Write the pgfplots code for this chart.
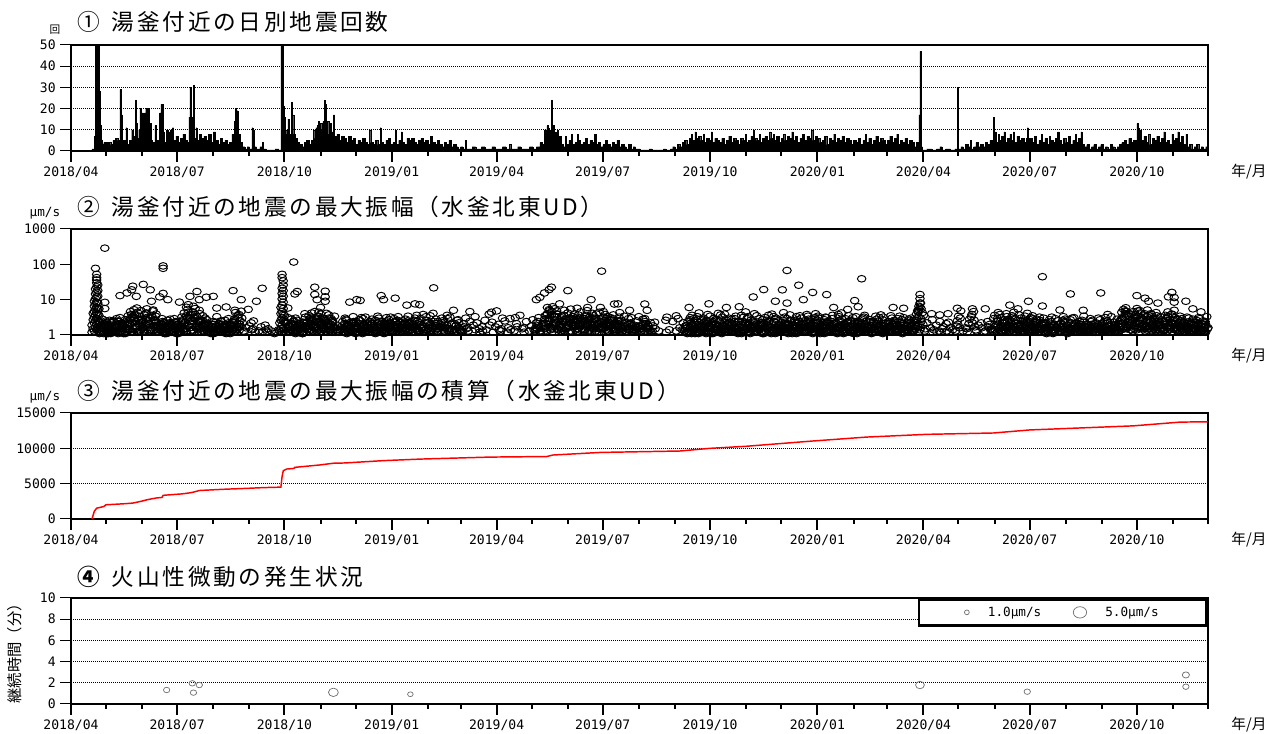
\documentclass[border=0pt]{standalone}
\usepackage{fontspec}
\setmainfont{DejaVu Sans Mono}
\newfontfamily\jp{Noto Sans CJK JP}
\usepackage{pgfplots}
\pgfplotsset{compat=1.18}
\usepackage{pgfplotstable}

\newcommand\ticfont{\fontsize{9.8pt}{11pt}\selectfont}
\newcommand\ttl[1]{{\jp\fontsize{17pt}{20pt}\selectfont\addfontfeature{LetterSpace=12}#1}}

% panel 2: 4-day blocks, a..e = day d..d+3, f = d+0.5, g = d+2.5
\pgfplotstableread{
d a b c e f g
24 1.3 2.2 1.6 2.8 1.1 1.9
28 1.8 1.2 2.5 1.5 2.1 1.3
32 1.1 2.6 1.4 1.9 1.7 2.3
36 2.4 1.5 1.2 2.9 1.3 1.8
40 1.6 2.0 3.1 1.3 2.5 1.2
44 1.2 1.7 2.3 1.5 1.9 2.7
48 2.2 3.5 1.4 4.6 1.8 2.9
52 3.8 1.5 5.2 2.4 1.2 3.1
56 1.7 4.4 2.8 1.3 5.8 2.1
60 4.9 2.3 1.6 3.7 2.6 1.4
64 1.9 5.5 3.2 2.0 4.1 1.3
68 3.0 1.4 4.8 2.7 1.6 5.1
72 2.5 3.9 1.3 2.2 3.4 1.8
76 1.4 2.1 2.9 1.2 1.7 2.4
80 2.3 1.3 1.8 2.6 1.1 1.5
84 1.6 2.8 1.2 1.9 2.2 1.4
88 1.2 1.5 2.4 1.7 2.9 1.1
92 2.0 1.3 1.6 3.2 1.4 2.3
96 2.7 4.2 1.5 6.1 2.0 3.4
100 5.3 1.8 3.6 2.4 7.2 1.3
104 2.1 6.5 2.9 1.6 4.5 3.8
108 3.3 1.4 5.0 2.6 1.9 4.0
112 1.5 2.6 1.2 3.0 1.8 nan
116 2.2 1.3 1.9 1.4 2.7 1.6
120 1.1 1.7 2.4 1.2 nan 2.0
124 1.8 3.3 1.4 2.1 1.3 nan
128 1.3 1.5 2.0 1.6 2.5 1.2
132 2.6 1.2 1.7 2.9 nan 1.4
136 1.4 2.1 1.3 1.8 1.5 2.3
140 2.5 4.3 1.6 3.6 5.0 2.0
144 3.8 1.7 4.7 2.2 1.4 3.0
148 1.3 nan 1.6 nan 1.2 nan
152 nan 1.8 nan 1.4 nan 2.2
156 1.5 nan 1.2 nan 2.5 nan
160 nan 1.3 nan 1.7 nan nan
164 1.2 nan nan 1.4 nan 1.9
168 nan 1.5 nan nan 1.2 nan
172 1.3 nan nan nan nan 1.1
176 nan nan 1.4 nan 1.2 nan
184 2.4 1.5 3.1 1.8 2.2 1.3
188 1.7 2.8 1.3 2.5 1.4 2.0
192 1.2 1.9 2.6 1.4 3.0 1.6
196 2.1 1.3 1.8 2.3 1.5 1.1
200 1.6 3.2 1.4 2.4 4.0 1.9
204 3.5 1.8 2.7 1.3 2.1 4.2
208 2.2 4.6 1.5 3.3 1.7 2.8
212 1.4 2.5 3.9 1.9 4.4 1.3
216 3.0 1.6 2.3 4.1 1.5 2.6
220 1.8 3.7 1.3 2.9 2.0 1.5
224 2.6 1.4 3.4 1.6 2.4 nan
228 nan 1.2 nan nan nan 1.4
232 1.5 2.4 1.2 3.0 1.8 2.1
236 2.8 1.3 1.9 1.5 2.6 1.2
240 1.4 2.1 3.3 1.7 1.3 2.4
244 1.9 1.2 1.6 2.7 2.2 1.5
248 2.5 3.1 1.3 1.8 1.4 2.9
252 1.2 1.7 2.2 1.4 3.2 1.6
256 2.3 1.5 2.8 1.2 1.9 2.1
260 1.6 2.6 1.4 3.4 1.3 1.8
264 3.0 1.3 2.0 1.6 2.4 1.2
268 1.4 2.2 1.7 2.5 1.5 3.1
272 2.1 1.6 3.2 1.3 2.7 1.9
276 1.3 2.9 1.5 2.0 1.8 2.4
280 2.6 1.4 2.3 1.7 3.3 1.2
284 1.8 2.0 1.3 2.8 1.5 2.2
288 1.5 3.4 2.1 1.4 2.5 1.7
292 2.4 1.2 1.9 3.0 1.6 2.6
296 1.7 2.5 1.4 2.2 3.6 1.3
300 2.9 1.5 3.8 nan 2.0 1.3
304 1.4 2.6 nan 1.8 3.3 2.2
308 3.5 nan 1.6 2.4 1.3 4.1
312 1.9 2.8 1.3 nan 2.1 1.5
316 nan 1.7 3.0 1.4 nan 2.5
320 2.3 1.2 nan 2.9 1.6 3.6
324 1.5 3.2 2.0 nan 1.3 nan
328 nan 1.4 1.8 2.6 nan 1.9
332 2.7 nan 1.3 1.6 2.2 nan
336 1.3 2.1 nan 1.5 nan 3.0
340 1.6 nan 2.4 nan 1.3 nan
344 nan 1.9 nan 1.4 nan 3.3
348 2.2 nan 1.5 nan nan 1.2
352 nan 1.3 nan 2.6 1.7 nan
356 1.4 nan nan 1.9 nan 3.9
360 nan 2.3 1.2 nan 4.4 nan
364 1.7 nan nan 1.4 nan 2.0
368 nan 1.5 3.0 nan 1.3 nan
372 2.5 nan nan 1.6 nan 1.2
376 nan 1.4 nan nan 2.9 nan
380 1.3 nan 2.1 nan nan 1.7
384 nan 3.6 nan 1.5 nan nan
388 1.6 nan nan nan 1.2 2.4
392 nan 1.3 nan 1.8 nan nan
396 2.7 1.4 nan 2.2 nan 1.6
400 1.5 3.1 1.3 nan 2.4 nan
404 2.0 1.2 2.8 1.6 nan 3.5
408 3.8 2.4 5.2 1.7 6.0 2.9
412 4.6 6.3 2.1 3.4 1.5 5.5
416 2.2 3.9 1.4 2.7 4.8 1.8
420 3.1 1.6 2.4 5.0 1.3 3.6
424 1.5 2.8 4.2 1.9 2.3 1.2
428 2.6 1.3 3.3 2.0 5.4 2.9
432 4.0 2.2 1.5 3.7 1.8 2.5
436 1.7 4.5 2.6 1.4 3.0 1.9
440 2.9 1.8 3.6 2.3 1.4 4.9
444 1.3 3.2 2.0 4.1 2.7 1.6
448 3.5 1.5 2.8 1.2 2.2 3.9
452 2.1 4.4 1.7 3.0 1.5 2.4
456 1.6 2.5 3.8 1.4 4.6 1.9
460 3.3 1.3 2.2 2.7 1.8 3.1
464 2.0 3.7 1.5 1.9 2.9 1.3
468 1.4 2.4 3.2 1.6 2.1 4.3
472 2.6 1.5 nan 2.2 1.3 3.4
476 1.3 nan 2.9 1.7 nan 2.0
480 2.2 1.8 1.2 nan 3.1 1.5
484 nan 2.5 1.6 3.3 1.4 nan
488 1.7 1.3 nan 2.1 nan 2.8
492 2.9 nan 1.5 1.2 2.4 1.6
496 1.4 2.2 nan 1.8 nan 1.3
500 nan 1.5 nan nan 2.3 nan
504 1.3 nan nan nan nan nan
508 nan nan 2.6 nan nan 1.2
512 nan 1.4 nan nan nan nan
516 2.4 nan nan 1.3 nan nan
520 nan nan 1.6 nan 2.9 nan
524 1.4 2.2 nan 1.8 nan 1.3
528 1.6 2.4 1.2 3.1 1.9 2.7
532 2.2 1.3 2.9 1.7 3.6 1.4
536 1.4 3.3 2.0 1.2 2.5 4.2
540 2.8 1.7 1.4 2.3 1.3 3.0
544 1.9 2.6 3.8 1.5 2.1 1.2
548 3.4 1.2 2.2 2.9 1.6 2.4
552 1.3 2.0 1.7 4.1 2.7 1.5
556 2.5 3.7 1.3 1.8 1.4 3.2
560 1.7 1.4 2.6 2.1 3.9 1.9
564 3.0 2.3 1.5 1.3 2.2 2.8
568 1.2 2.9 3.4 1.9 1.6 1.4
572 2.4 1.6 1.2 3.6 2.5 2.0
576 1.8 3.2 2.3 1.4 1.3 4.5
580 2.9 1.3 1.9 2.6 3.3 1.6
584 1.5 2.5 4.0 1.7 2.0 1.2
588 3.5 1.8 1.4 2.2 1.5 2.9
592 1.3 2.7 2.1 3.1 1.9 1.6
596 2.3 1.5 3.6 1.2 2.6 2.0
600 1.6 3.9 1.3 2.4 1.4 3.3
604 2.8 1.4 2.5 1.8 3.0 1.5
608 1.4 2.2 1.7 4.3 1.3 2.6
612 3.2 1.9 2.9 1.5 2.3 1.2
616 1.7 2.6 1.3 2.0 3.7 1.8
620 2.5 1.3 3.3 2.7 1.6 2.2
624 1.3 3.5 1.9 1.4 2.4 3.0
628 2.1 1.6 2.4 3.8 1.2 1.7
632 3.4 2.3 1.4 1.7 2.8 2.5
636 1.5 1.3 3.1 2.2 1.9 4.0
640 2.6 3.0 1.6 1.3 3.4 1.4
644 1.8 1.5 2.7 3.2 1.4 2.3
648 3.1 2.4 1.3 1.9 2.2 1.6
652 1.4 3.6 2.1 1.5 2.9 1.2
656 2.2 1.7 3.8 2.5 1.3 3.3
660 1.6 2.8 1.4 1.8 4.2 2.0
664 2.9 1.3 2.3 3.5 1.7 1.5
668 1.3 2.5 1.9 1.4 2.6 3.1
672 2.4 3.3 1.5 2.1 1.4 1.8
676 1.7 1.4 2.8 3.0 2.3 1.3
680 3.2 2.0 1.3 1.6 3.6 2.5
684 1.5 2.7 2.4 1.2 1.9 1.4
688 2.3 1.5 3.4 2.8 1.3 2.1
692 1.4 3.1 1.6 1.9 2.5 3.7
696 2.7 1.8 2.1 1.3 3.2 1.5
700 1.6 2.4 1.4 3.5 1.7 2.2
704 3.0 1.3 2.6 1.8 2.0 1.4
708 1.3 2.9 1.7 2.3 1.5 3.4
712 2.2 1.6 3.1 1.4 2.7 1.9
716 1.5 2.3 1.3 2.6 1.8 2.8
720 1.8 1.4 2.5 1.6 3.0 1.3
724 2.6 3.9 1.7 5.2 2.2 4.4
728 6.1 2.8 4.3 3.6 8.0 2.0
732 1.3 nan 2.2 nan 1.5 nan
736 nan 1.6 nan 1.2 nan 2.7
740 1.4 nan 1.9 nan nan 1.2
744 nan 2.4 nan 1.5 1.3 nan
748 1.7 nan nan 1.3 nan 2.1
752 nan 1.2 1.6 nan 2.3 nan
756 1.4 nan nan 1.8 nan 1.3
760 2.5 3.4 1.6 4.8 2.0 3.0
764 nan 1.3 nan 1.6 nan nan
768 1.5 nan 2.1 nan 1.2 2.8
772 3.3 2.2 4.6 1.7 3.8 2.6
776 1.4 nan 1.9 nan 1.3 nan
780 nan 1.6 nan 1.2 2.2 nan
784 1.3 nan 2.4 nan nan 1.7
788 2.0 1.5 nan 2.9 1.4 nan
792 3.6 1.8 2.5 4.3 1.4 2.9
796 1.5 3.1 1.3 2.2 3.8 1.7
800 2.7 1.4 4.0 1.6 2.3 3.3
804 1.9 2.6 1.5 3.5 1.3 2.1
808 3.2 1.7 2.8 1.4 4.4 1.6
812 1.4 3.7 2.0 2.5 1.8 3.0
816 2.4 1.3 3.4 1.9 2.6 1.5
820 4.1 2.2 1.6 3.1 1.4 2.7
824 1.6 2.9 2.3 1.3 3.5 1.9
828 2.8 1.5 1.8 2.6 1.7 3.2
832 1.4 2.3 3.0 1.6 nan 2.1
836 2.2 1.3 1.8 2.7 1.5 nan
840 1.7 3.2 1.4 nan 2.4 1.3
844 2.9 1.6 2.5 1.9 nan 1.5
848 1.3 2.1 nan 3.3 1.7 2.6
852 2.4 nan 1.5 1.4 2.8 1.2
856 1.6 2.7 2.2 nan 1.3 3.0
860 3.1 1.4 nan 1.8 2.1 1.6
864 1.5 2.4 1.9 2.6 nan 1.3
868 2.3 nan 1.4 1.7 3.4 2.0
872 1.2 1.8 2.9 nan 1.5 2.4
876 2.6 1.5 nan 2.2 1.3 1.8
880 1.7 3.0 1.6 1.4 nan 2.7
884 2.0 nan 2.4 3.1 1.6 1.3
888 1.4 2.2 1.3 nan 2.5 1.9
892 3.3 1.6 nan 1.8 1.4 2.3
896 1.5 2.8 2.0 1.3 nan 1.7
900 2.6 4.4 1.7 3.2 2.1 5.3
904 4.8 1.5 3.6 2.3 5.9 1.9
908 1.8 3.9 2.7 4.6 1.4 3.0
912 3.4 2.2 5.6 1.6 3.1 2.5
916 2.1 4.2 1.5 2.8 4.9 1.7
920 3.7 1.6 2.4 5.1 2.0 3.3
924 1.5 3.0 4.0 1.9 2.6 1.4
928 2.8 1.8 1.4 3.5 1.7 4.3
932 1.9 2.5 3.3 1.5 2.2 1.3
936 2.4 1.4 2.0 2.9 1.6 3.6
940 1.6 3.3 1.5 2.2 4.5 1.8
944 3.8 2.1 5.0 1.7 2.6 3.1
948 1.4 2.7 1.8 3.4 1.5 2.3
952 2.5 1.5 2.2 1.3 2.9 1.7
956 1.7 3.2 1.4 2.4 1.6 3.0
960 2.2 1.3 2.8 1.9 1.4 2.0
964 1.5 2.6 1.6 3.1 2.3 1.3
968 2.9 1.7 2.1 1.4 1.8 2.5
972 1.3 2.0 3.3 1.6 2.4 1.5
}\bandtab

% panel 2: second layer of the dense lower band, same layout
\pgfplotstableread{
d a b c e f g
26 1.2 1.6 1.1 2.0 1.4 1.8
30 1.5 1.1 1.9 1.3 2.3 1.2
34 1.1 2.2 1.4 1.7 1.2 2.5
38 1.8 1.3 1.2 2.4 1.6 1.1
42 1.3 1.9 2.1 1.1 1.5 1.7
46 2.0 1.2 1.5 1.4 1.1 2.1
50 1.4 2.7 1.2 3.3 2.0 1.3
54 2.9 1.5 1.8 1.2 3.9 1.6
58 1.2 3.4 2.2 1.6 1.4 2.8
62 2.4 1.3 3.0 1.9 1.2 4.2
66 1.6 2.1 1.3 3.6 2.5 1.4
70 3.1 1.4 2.6 1.2 1.8 2.3
74 1.3 1.8 1.5 2.0 1.2 1.6
78 1.7 1.2 2.2 1.4 1.9 1.1
82 1.1 1.5 1.3 2.1 1.4 1.8
86 2.0 1.3 1.7 1.2 1.5 2.3
90 1.4 1.9 1.1 1.6 2.2 1.2
94 1.2 1.6 2.5 1.3 1.8 1.5
98 2.3 1.3 3.1 1.8 1.5 4.4
102 1.6 3.8 1.4 2.5 2.9 1.3
106 3.2 1.7 2.1 1.4 5.6 2.4
110 1.5 2.4 1.2 3.5 1.7 1.9
114 1.3 1.8 1.6 1.2 2.1 1.4
118 1.9 1.2 1.4 2.0 1.3 1.7
122 1.2 1.6 2.3 1.5 1.1 1.3
126 1.5 2.0 1.2 1.3 1.8 2.4
130 1.7 1.3 1.9 1.1 1.4 1.6
134 1.2 2.2 1.5 1.8 1.3 1.1
138 1.9 1.4 2.8 1.3 2.3 1.6
142 1.4 3.1 1.7 2.5 1.5 2.0
186 1.3 1.8 1.2 2.1 1.6 1.4
190 1.9 1.3 1.6 1.2 2.4 1.1
194 1.2 2.0 1.4 1.7 1.3 1.9
198 1.6 1.2 2.2 1.5 1.1 1.7
202 2.3 1.5 1.3 2.9 1.8 1.2
206 1.4 2.6 1.9 1.2 3.2 1.6
210 1.8 1.3 3.4 2.0 1.5 2.4
214 1.2 2.2 1.6 1.4 2.7 1.9
218 2.5 1.5 1.2 3.0 1.3 1.7
222 1.4 1.9 2.3 1.6 2.0 1.2
226 1.6 1.2 1.4 1.8 nan 1.3
234 1.2 1.7 1.4 2.0 1.5 1.1
238 1.8 1.3 2.3 1.2 1.6 1.9
242 1.3 1.5 1.1 1.7 2.2 1.4
246 1.6 2.1 1.4 1.3 1.2 1.8
250 1.1 1.4 1.9 1.6 1.7 1.2
254 2.0 1.2 1.3 2.4 1.4 1.5
258 1.4 1.8 1.6 1.1 2.1 1.3
262 1.2 1.3 2.2 1.5 1.6 1.9
266 1.7 2.4 1.2 1.8 1.3 1.1
270 1.3 1.6 1.5 1.2 2.0 1.7
274 1.9 1.2 1.7 2.3 1.4 1.3
278 1.2 1.5 2.0 1.4 1.8 1.6
282 1.5 2.2 1.3 1.6 1.2 2.5
286 2.1 1.4 1.8 1.2 1.5 1.3
290 1.3 1.7 1.2 2.0 2.3 1.4
294 1.6 1.2 1.5 1.3 1.7 2.1
298 1.2 1.9 nan 1.6 1.3 nan
302 1.8 nan 1.4 1.2 nan 2.2
306 nan 1.3 2.0 nan 1.6 1.2
310 1.5 1.2 nan 1.8 nan 1.4
314 1.2 nan 1.7 nan 2.4 nan
318 nan 1.6 1.3 1.2 nan 1.9
322 1.9 nan 1.2 nan 1.5 nan
326 1.3 1.4 nan 2.1 nan 1.2
330 nan 1.2 1.6 nan 1.3 nan
334 1.4 nan nan 1.7 1.2 nan
398 1.3 nan 1.8 nan 1.4 nan
402 nan 1.6 nan 2.1 1.2 nan
406 1.5 2.2 1.3 3.0 1.8 4.0
410 2.6 1.4 3.7 2.0 4.9 1.6
414 1.8 3.2 2.3 1.5 2.7 3.9
418 1.4 2.0 1.6 3.4 1.2 2.4
422 2.3 1.3 2.8 1.7 3.6 1.5
426 1.6 3.0 1.2 2.2 1.9 2.7
430 1.2 1.7 2.5 1.4 3.3 1.8
434 2.8 1.5 1.9 2.4 1.3 2.1
438 1.5 2.6 1.3 1.8 2.2 3.5
442 2.0 1.2 3.1 1.6 1.7 1.4
446 1.7 2.3 1.5 2.7 1.2 3.0
450 1.3 1.8 2.2 1.2 2.5 1.6
454 2.4 1.4 1.7 3.2 1.5 2.0
458 1.6 2.9 1.3 1.9 2.1 1.2
462 1.2 1.5 2.6 1.4 1.8 2.3
466 1.9 2.1 1.4 2.5 1.3 1.7
470 1.4 1.3 1.8 nan 2.0 1.2
474 nan 1.7 1.2 1.5 nan 2.2
478 1.6 nan 2.0 1.3 1.4 nan
482 1.3 1.9 nan 1.2 nan 1.6
486 nan 1.4 1.5 nan 1.8 1.2
490 1.8 nan 1.3 1.6 nan 2.1
494 1.2 1.5 nan 1.3 1.9 nan
526 1.3 1.8 1.2 nan 1.5 1.1
530 1.2 1.6 1.1 2.0 1.4 1.8
534 1.5 1.1 1.9 1.3 2.3 1.2
538 1.1 2.2 1.4 1.7 1.2 2.5
542 1.8 1.3 1.2 2.4 1.6 1.1
546 1.3 1.9 2.1 1.1 1.5 1.7
550 2.0 1.2 1.5 1.4 1.1 2.1
554 1.4 1.7 1.2 1.6 2.6 1.3
558 1.1 1.4 2.3 1.2 1.8 1.5
562 1.6 1.2 1.8 2.2 1.3 1.4
566 1.2 2.0 1.3 1.5 1.7 2.4
570 1.9 1.5 1.1 1.8 1.2 1.6
574 1.3 1.1 2.4 1.4 2.0 1.2
578 1.7 2.1 1.5 1.2 1.4 1.9
582 1.2 1.4 1.7 2.3 1.1 1.5
586 2.2 1.3 1.2 1.6 1.9 1.3
590 1.4 1.8 2.0 1.1 1.5 2.2
594 1.1 1.6 1.3 1.9 1.2 1.7
598 1.8 1.2 1.6 1.4 2.4 1.1
602 1.3 2.3 1.1 1.7 1.4 1.6
606 1.6 1.4 1.9 1.2 1.3 2.0
610 1.2 1.7 1.4 2.1 1.6 1.3
614 2.0 1.1 1.5 1.3 1.8 1.4
618 1.4 1.9 1.2 1.6 1.1 2.3
622 1.1 1.3 2.2 1.4 1.7 1.5
626 1.7 1.6 1.3 1.2 2.0 1.2
630 1.3 2.1 1.6 1.9 1.2 1.4
634 1.9 1.2 1.1 1.5 1.4 2.2
638 1.2 1.5 1.8 1.3 2.5 1.6
642 1.5 1.3 1.4 2.0 1.1 1.7
646 1.1 1.8 2.3 1.2 1.6 1.3
650 2.1 1.4 1.2 1.7 1.3 1.9
654 1.3 1.6 1.5 1.1 2.2 1.2
658 1.6 1.2 1.9 1.4 1.5 2.4
662 1.2 2.0 1.3 2.3 1.1 1.6
666 1.8 1.5 1.6 1.2 1.7 1.3
670 1.4 1.1 2.1 1.5 1.3 1.8
674 1.1 1.7 1.3 1.9 2.4 1.2
678 2.0 1.3 1.5 1.2 1.6 1.4
682 1.3 1.8 1.2 2.2 1.4 1.7
686 1.6 1.2 2.4 1.4 1.1 1.5
690 1.2 1.6 1.4 1.7 1.9 1.3
694 1.9 1.4 1.1 1.3 1.5 2.1
698 1.4 2.2 1.6 1.2 1.3 1.6
702 1.2 1.3 1.8 2.0 1.7 1.2
706 1.7 1.5 1.2 1.4 2.3 1.8
710 1.3 1.9 1.6 1.1 1.4 1.5
714 2.1 1.2 1.4 1.8 1.2 1.3
718 1.4 1.6 2.2 1.3 1.6 1.9
722 1.2 2.0 1.5 2.6 1.3 1.7
726 1.9 3.2 1.4 2.4 4.6 1.6
790 1.4 1.2 nan 1.8 1.3 nan
794 1.2 1.9 1.5 1.3 2.4 1.6
798 1.8 1.3 2.1 1.6 1.2 1.4
802 1.3 2.4 1.2 1.9 1.7 2.8
806 2.2 1.5 1.7 1.2 1.4 1.3
810 1.6 1.2 2.6 1.4 2.1 1.8
814 1.2 1.8 1.3 2.2 1.5 1.2
818 1.9 1.4 1.6 1.3 1.2 2.4
822 1.3 2.0 1.2 1.7 1.9 1.4
826 1.5 1.3 2.3 1.2 1.4 1.6
830 1.2 1.7 1.4 1.9 1.3 2.0
834 1.8 1.2 1.6 1.3 2.2 1.1
838 1.3 1.5 2.0 1.2 1.4 1.7
842 1.1 1.9 1.3 1.6 1.2 1.4
846 1.6 1.3 1.2 2.1 1.5 1.2
850 1.2 1.4 1.8 1.3 1.7 2.2
854 1.9 1.2 1.4 1.5 1.1 1.6
858 1.3 1.7 1.2 1.9 1.4 1.3
862 1.5 1.2 2.1 1.3 1.6 1.8
866 1.2 1.6 1.3 1.2 2.0 1.4
870 1.7 1.3 1.5 1.8 1.2 1.3
874 1.3 2.0 1.2 1.4 1.5 1.9
878 1.6 1.2 1.7 1.3 1.2 1.5
882 1.2 1.5 1.3 2.2 1.4 1.2
886 1.8 1.3 1.6 1.2 1.7 1.4
890 1.3 1.4 1.2 1.5 1.3 2.0
894 1.5 1.9 1.4 1.2 1.6 1.3
898 1.2 2.4 1.6 3.0 1.8 1.4
902 2.8 1.5 3.9 1.7 2.3 4.6
906 1.6 3.3 2.0 1.4 4.1 2.5
910 2.3 1.8 1.5 3.7 1.3 2.9
914 1.4 4.8 2.6 2.1 3.4 1.7
918 3.1 1.5 1.9 1.3 2.5 4.0
922 1.7 2.7 3.5 1.8 1.4 2.2
926 2.4 1.3 1.6 2.9 3.8 1.5
930 1.3 2.1 1.4 2.0 1.6 2.8
934 1.8 1.5 2.4 1.3 1.9 1.4
938 1.4 2.6 1.3 1.7 2.2 3.3
942 2.7 1.6 3.9 2.2 1.4 2.0
946 1.5 2.0 1.6 2.8 3.1 1.3
950 1.9 1.3 2.2 1.5 1.2 1.8
954 1.3 1.8 1.2 1.6 2.3 1.4
958 1.7 1.2 1.9 1.3 1.5 2.1
962 1.2 1.6 1.4 2.2 1.3 1.5
966 1.8 1.4 1.3 1.5 2.0 1.2
970 1.3 1.9 1.6 1.2 1.4 1.7
}\bandtabb

% panel 2: bursts and single large events
\pgfplotstableread{
x y
18 1.2
18 1.9
19 1.5
19 2.7
19 4.1
20 1.3
20 2.2
20 3.2
20 4.6
20 6.5
20 9.0
21 1.6
21 2.5
21 3.7
21 5.3
21 7.5
21 10.6
21 14.5
21 20
22 1.4
22 2.0
22 2.9
22 4.2
22 6.0
22 8.4
22 11.8
22 16.2
22 23
22 30
23 1.7
23 2.6
23 3.9
23 5.6
23 8.0
23 12.5
23 18
23 26
22 36
22 42
22 52
21 77
24 1.5
24 2.4
24 3.6
24 5.5
179 1.3
179 2.2
180 1.5
180 2.6
180 4.0
180 6.0
181 1.2
181 1.9
181 3.0
181 4.6
181 7.0
181 10.5
181 15
181 21
182 1.6
182 2.5
182 3.8
182 5.6
182 8.5
182 12.5
182 18
182 26
182 34
181 42
181 52
183 1.4
183 2.3
183 3.6
29 287
29 8.4
29 5.6
42 13
48 15.5
53 24
52 19
56 12.4
62 27
68 19
69 9
76 12
79 90
79 77
79 15
83 10
93 8.5
102 12.4
108 17
110 10
116 11.7
122 12.4
125 5.8
133 6.2
139 18
146 10
152 5.3
159 9
164 21
186 5.8
191 116
192 14.5
194 17
209 22.5
209 14
211 10
214 6
218 17.3
218 12
218 9
239 8.5
245 10
248 9.5
266 13
268 10
278 11
288 7
295 7.6
299 7.2
311 21.6
328 5
342 4.6
365 4.8
381 3.1
399 10
402 11.6
406 15.5
410 19.3
412 22.5
419 7.6
426 18
434 5.7
443 6
446 10
454 6
455 64
466 7.5
469 7.6
479 5
492 7.5
494 5
511 3.2
519 3.5
530 6
547 7.6
562 6
573 6.3
585 11.9
594 19.3
604 9
610 19
614 67
614 8
624 25.6
628 10
636 16
648 13.9
654 6
666 5.3
672 9.4
675 6.3
678 39
705 6
714 5.7
726 4.9
727 6.5
728 8
728 10.7
728 14
729 5.5
738 4
745 3.7
752 4
760 5.7
773 5.5
784 5.5
805 7
812 5.5
821 9
833 44.6
833 6.6
848 5.1
857 14.5
868 5
883 15.5
889 3.8
914 13
921 11
924 9
932 8
941 12
944 16
946 11.5
946 8.5
956 9
962 5.5
969 4.5
}\burst

\pgfplotsset{
  panel/.style={
    scale only axis, width=852.75pt, height=79.5pt,
    xmin=0, xmax=975,
    tick pos=left, tick align=outside,
    xtick={0,91,183,275,365,456,548,640,731,822,914},
    xticklabels={2018/04,2018/07,2018/10,2019/01,2019/04,2019/07,2019/10,2020/01,2020/04,2020/07,2020/10},
    minor xtick={30,61,122,153,214,244,306,334,395,426,487,518,579,609,671,700,761,792,853,884,945,975},
    major tick length=8pt, minor tick length=3.5pt,
    xtick style={line width=1.5pt, black},
    ytick style={line width=0.75pt, black},
    minor tick style={line width=1.1pt, black},
    axis line style={line width=1.5pt},
    major grid style={line width=0.75pt, black, dash pattern=on 0.75pt off 0.75pt},
    tick label style={font=\ticfont},
    scaled y ticks=false,
    /pgf/number format/assume math mode=true,
    after end axis/.code={\draw[line width=2.2pt] (rel axis cs:0,0) -- (rel axis cs:0,1);},
  },
  amp/.style={only marks, mark=o, mark size=3.2pt, black,
    mark options={yscale=0.78, line width=0.72pt}},
  tremor/.style={only marks, mark=o, black!55,
    mark options={yscale=0.85, line width=0.55pt}, forget plot},
}

\begin{document}
\begin{tikzpicture}
\useasboundingbox (0,0) rectangle (957.75pt,550.5pt);

% titles and unit labels
\node[anchor=west, inner sep=0pt] at (57.75pt,534pt) {\ttl{①\hspace{9pt}湯釜付近の日別地震回数}};
\node[anchor=west, inner sep=0pt] at (57.75pt,395.25pt) {\ttl{②\hspace{9pt}湯釜付近の地震の最大振幅（水釜北東UD）}};
\node[anchor=west, inner sep=0pt] at (57.75pt,257.25pt) {\ttl{③\hspace{9pt}湯釜付近の地震の最大振幅の積算（水釜北東UD）}};
\node[anchor=west, inner sep=0pt] at (57.75pt,117.75pt) {\ttl{{\bfseries ④}\hspace{9pt}火山性微動の発生状況}};
\node at (41.25pt,528pt) {\jp\fontsize{8pt}{9pt}\selectfont 回};
\node at (33.75pt,390.75pt) {\fontsize{9.5pt}{10pt}\selectfont μm/s};
\node at (33.75pt,252.75pt) {\fontsize{9.5pt}{10pt}\selectfont μm/s};
\node[rotate=90] at (11.25pt,63pt) {\jp\fontsize{11.5pt}{12pt}\selectfont 継続時間（分）};
\foreach \yy in {421.5,283.5,145.5,6.75}
  \node at (936.75pt,\yy pt) {\jp\fontsize{11pt}{12pt}\selectfont 年/月};

% 1: daily counts
\begin{axis}[panel, at={(53.25pt,437.25pt)}, anchor=south west,
  ymin=0, ymax=50, ytick={0,10,20,30,40,50}, ymajorgrids]
\addplot[const plot, fill=black, draw=black, line width=0.2pt] coordinates {
(0,0) (18,1) (20,7) (21,50) (24,28) (25,12) (26,5) (27,3) (28,4) (29,2)
(30,4) (31,3) (32,4) (34,3) (36,5) (37,2) (38,6) (40,5) (42,29) (43,17)
(44,4) (45,5) (47,11) (48,3) (50,5) (52,10) (53,7) (55,24) (56,13) (57,6)
(58,10) (59,20) (60,12) (61,18) (62,9) (63,18) (64,20) (65,10) (66,20) (67,11)
(68,13) (69,5) (70,4) (72,12) (73,5) (75,4) (76,18) (77,22) (79,9) (80,4)
(82,10) (83,6) (84,9) (85,10) (86,6) (87,11) (88,5) (90,7) (92,4) (94,6)
(96,8) (98,5) (100,4) (101,16) (102,30) (103,7) (104,16) (105,31) (106,6) (107,11)
(108,5) (110,8) (112,6) (114,7) (116,5) (118,8) (120,4) (122,9) (124,5) (126,3)
(128,6) (130,4) (132,5) (134,3) (136,4) (138,8) (140,14) (141,20) (142,19) (143,6)
(144,8) (145,4) (147,2) (149,1) (151,2) (153,1) (155,11) (156,10) (157,2) (159,1)
(162,2) (164,4) (165,1) (167,0.5) (170,0.5) (175,1) (178,0.5) (180,50) (182,21) (183,16)
(184,10) (185,8) (186,15) (187,7) (188,8) (189,23) (190,17) (191,8) (192,6) (194,4)
(196,3) (198,2) (200,4) (202,5) (204,3) (206,5) (208,10) (209,6) (210,11) (211,12)
(212,14) (213,8) (214,13) (215,10) (216,14) (217,24) (218,22) (219,10) (220,14) (221,8)
(222,13) (223,6) (224,9) (225,17) (226,7) (228,8) (230,5) (232,7) (234,6) (236,4)
(238,7) (240,5) (242,6) (244,3) (246,5) (248,4) (250,6) (252,4) (254,3) (256,10)
(257,4) (259,3) (261,5) (263,3) (265,11) (266,4) (268,3) (270,5) (272,6) (274,3)
(276,4) (278,10) (279,3) (281,5) (283,9) (284,4) (286,3) (288,6) (290,5) (292,6)
(294,4) (296,3) (298,5) (300,6) (302,4) (304,5) (306,3) (308,7) (310,4) (312,3)
(314,5) (316,3) (318,2) (320,4) (322,3) (324,5) (326,2) (328,3) (330,2) (332,1)
(334,2) (336,1) (338,5) (339,1) (341,1) (344,2) (347,1) (352,2) (355,1) (361,2)
(364,1) (370,2) (373,1) (376,3) (377,1) (383,2) (386,1) (393,2) (396,1) (399,2)
(402,4) (404,3) (406,10) (408,12) (409,11) (410,10) (411,8) (412,24) (413,12) (414,5)
(415,9) (416,6) (417,10) (418,4) (419,7) (420,3) (422,2) (424,7) (425,3) (427,5)
(429,8) (430,3) (432,4) (434,8) (435,5) (437,3) (439,4) (441,6) (443,3) (445,5)
(447,4) (449,8) (450,3) (452,4) (454,2) (456,3) (458,5) (460,3) (462,2) (464,4)
(466,3) (468,5) (470,2) (472,3) (474,2) (476,1) (478,3) (480,1) (482,2) (484,1)
(488,0.5) (496,1) (498,0.5) (508,1) (510,0.5) (514,1) (516,2) (518,1) (520,3) (522,2)
(524,4) (526,5) (528,3) (530,6) (532,8) (533,5) (535,9) (536,6) (538,7) (540,5)
(542,8) (543,4) (545,6) (547,5) (549,9) (550,4) (552,6) (554,5) (556,4) (558,6)
(560,3) (562,5) (564,7) (566,4) (568,6) (570,5) (572,3) (574,6) (576,5) (578,8)
(579,4) (581,5) (583,7) (585,10) (586,6) (588,5) (590,8) (591,4) (593,6) (595,7)
(597,5) (599,9) (600,6) (602,8) (603,5) (605,7) (607,4) (609,6) (611,8) (612,5)
(614,7) (616,6) (618,9) (619,5) (621,7) (623,4) (625,6) (627,8) (629,5) (631,7)
(633,6) (635,10) (636,5) (638,7) (640,6) (642,4) (644,5) (646,7) (648,3) (650,6)
(652,5) (654,8) (655,4) (657,6) (659,5) (661,7) (663,4) (665,6) (667,5) (669,3)
(671,5) (673,4) (675,6) (677,3) (679,5) (681,8) (682,4) (684,6) (686,3) (688,5)
(690,7) (692,4) (694,6) (696,5) (698,3) (700,5) (702,7) (704,4) (706,6) (708,8)
(709,3) (711,5) (713,4) (715,6) (717,3) (719,5) (721,4) (723,2) (725,4) (727,17)
(728,47) (729,2) (730,0.5) (734,1) (738,0.5) (742,1) (745,2) (747,0.5) (750,1) (754,0.5)
(758,1) (760,30) (761,1) (763,2) (765,1) (767,3) (769,2) (771,5) (772,1) (774,2)
(776,4) (778,2) (780,3) (782,2) (784,4) (786,3) (788,5) (790,3) (791,16) (792,9)
(793,4) (795,8) (796,5) (798,7) (800,9) (801,4) (803,6) (805,8) (806,5) (808,9)
(809,4) (811,7) (813,5) (815,6) (817,4) (819,6) (820,11) (821,5) (822,6) (824,4)
(826,7) (828,3) (830,5) (832,8) (833,4) (835,6) (837,3) (839,7) (840,5) (842,4)
(844,6) (846,9) (847,5) (849,3) (851,6) (853,4) (855,7) (857,3) (859,5) (861,8)
(862,4) (864,6) (866,9) (867,3) (869,2) (871,3) (873,1) (875,2) (877,3) (879,1)
(881,2) (883,3) (885,1) (887,2) (889,1) (891,3) (893,2) (895,1) (897,2) (899,3)
(901,4) (903,5) (905,3) (907,6) (909,4) (911,5) (914,13) (915,11) (916,4) (917,10)
(918,5) (920,7) (922,4) (924,8) (925,3) (927,6) (929,5) (931,7) (933,4) (935,6)
(937,9) (938,4) (940,5) (942,3) (944,8) (945,5) (947,6) (949,9) (950,4) (952,7)
(954,3) (956,8) (957,2) (959,3) (961,1) (963,2) (965,3) (967,1) (969,2) (971,1)
(973,2) (975,2)
} \closedcycle;
\end{axis}

% 2: maximum amplitude
\begin{axis}[panel, at={(53.25pt,299.25pt)}, anchor=south west,
  ymode=log, ymin=1, ymax=1000, ytick={1,10,100,1000},
  yticklabels={1,10,100,1000}, yminorticks=false]
\addplot[amp] table[x expr=\thisrow{d}, y=a] {\bandtab};
\addplot[amp] table[x expr=\thisrow{d}+1, y=b] {\bandtab};
\addplot[amp] table[x expr=\thisrow{d}+2, y=c] {\bandtab};
\addplot[amp] table[x expr=\thisrow{d}+3, y=e] {\bandtab};
\addplot[amp] table[x expr=\thisrow{d}+0.5, y=f] {\bandtab};
\addplot[amp] table[x expr=\thisrow{d}+2.5, y=g] {\bandtab};
\addplot[amp] table[x expr=\thisrow{d}, y=a] {\bandtabb};
\addplot[amp] table[x expr=\thisrow{d}+1, y=b] {\bandtabb};
\addplot[amp] table[x expr=\thisrow{d}+2, y=c] {\bandtabb};
\addplot[amp] table[x expr=\thisrow{d}+3, y=e] {\bandtabb};
\addplot[amp] table[x expr=\thisrow{d}+0.5, y=f] {\bandtabb};
\addplot[amp] table[x expr=\thisrow{d}+2.5, y=g] {\bandtabb};
\addplot[amp] table[x=x, y=y] {\burst};
\end{axis}

% 3: cumulative amplitude
\begin{axis}[panel, at={(53.25pt,161.25pt)}, anchor=south west,
  ymin=0, ymax=15000, ytick={0,5000,10000,15000},
  yticklabels={0,5000,10000,15000}, ymajorgrids]
\addplot[red, line width=1.1pt] coordinates {
(17.5,0) (18,0) (20,1100) (22,1530) (28,1760) (30,2010) (45,2150) (53,2250)
(60,2500) (66,2750) (73,2970) (78,3050) (79,3350) (95,3550) (102,3700) (105,3800)
(110,4030) (130,4200) (150,4330) (165,4440) (180,4510) (181,6000) (182,6820)
(185,7070) (191,7150) (192,7310) (213,7640) (225,7890) (235,7930) (268,8260)
(300,8480) (359,8760) (408,8840) (413,9050) (454,9420) (522,9620) (548,10000)
(579,10290) (634,11010) (682,11590) (734,11980) (791,12170) (822,12600)
(911,13180) (951,13710) (975,13760)
};
\end{axis}

% 4: volcanic tremor
\begin{axis}[panel, at={(53.25pt,22.5pt)}, anchor=south west,
  ymin=0, ymax=10, ytick={0,2,4,6,8,10}, ymajorgrids,
  legend columns=2,
  legend style={at={(1,1)}, anchor=north east, draw=black, line width=2pt,
    font=\fontsize{9.5pt}{10pt}\selectfont, inner xsep=34pt, inner ysep=3.5pt,
    /tikz/every odd column/.append style={column sep=12pt},
    /tikz/every even column/.append style={column sep=22pt}}]
\addlegendimage{only marks, mark=o, black!55, mark size=1.8pt, mark options={line width=0.55pt}}
\addlegendentry{1.0μm/s}
\addlegendimage{only marks, mark=o, black!55, mark size=5pt, mark options={yscale=0.85, line width=0.55pt}}
\addlegendentry{5.0μm/s}
\addplot[tremor, mark size=2.4pt] coordinates {(82,1.32) (104,1.95) (105,1.07) (110,1.79) (820,1.16) (956,1.63)};
\addplot[tremor, mark size=2.1pt] coordinates {(291,0.92)};
\addplot[tremor, mark size=3.7pt] coordinates {(225,1.1)};
\addplot[tremor, mark size=3.3pt] coordinates {(728,1.79)};
\addplot[tremor, mark size=2.7pt] coordinates {(956,2.74)};
\end{axis}
\end{tikzpicture}
\end{document}
